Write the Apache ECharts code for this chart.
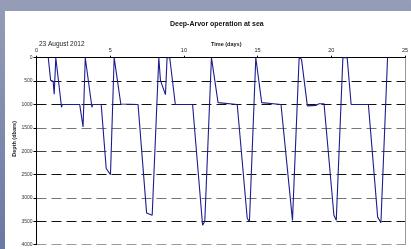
<!DOCTYPE html>
<html>
<head>
<meta charset="utf-8">
<script src="https://cdn.jsdelivr.net/npm/echarts@6/dist/echarts.min.js"></script>
<style>
    html, body {margin: 0; padding: 0;}
    #main {width: 411px; height: 249px;}
</style>
</head>
<body>
<div id="main"></div>
<script>
// time (days) and depth (dbars) of the float profile
var timeDays = [0.80, 0.96, 1.13, 1.20, 1.25, 1.31, 1.43, 1.70, 1.75, 2.93, 3.16, 3.31, 3.40, 3.76, 3.82, 4.39,
    4.73, 5.02, 5.27, 5.38, 5.72, 6.89, 7.47, 7.85, 8.30, 8.41, 8.52, 8.75, 8.86, 9.04, 9.42, 10.59,
    11.27, 11.42, 11.87, 11.99, 12.32, 13.62, 14.30, 14.45, 14.88, 14.99, 15.28, 16.59, 17.37, 17.82,
    17.98, 18.38, 18.50, 18.95, 19.17, 19.51, 20.18, 20.34, 20.79, 21.08, 21.35, 22.52, 23.15, 23.37, 23.82];
var depthDbar = [0, 485, 505, 780, 780, 0, 40, 1060, 1000, 1000, 1480, 0, 30, 1060, 1000, 1000,
    2370, 2500, 0, 0, 990, 1000, 3320, 3370, 0, 485, 500, 790, 0, 0, 1000, 1000,
    3585, 3500, 0, 30, 960, 1000, 3440, 3500, 0, 30, 960, 1000, 3480, 0,
    30, 1030, 1055, 1020, 985, 985, 3370, 3480, 0, 0, 1000, 1000, 3410, 3530, 0];
var xTicks = [0, 5, 10, 15, 20, 25];
var yTicks = [0, 500, 1000, 1500, 2000, 2500, 3000, 3500, 4000];

var profileData = [];
for (var i = 0; i < timeDays.length; i++) {
    profileData.push([timeDays[i], depthDbar[i]]);
}

var chart = echarts.init(document.getElementById('main'));
var font = 'Liberation Sans';
var option = {
    backgroundColor: {
        type: 'linear', x: 0, y: 0, x2: 0, y2: 1,
        colorStops: [{offset: 0, color: '#959db7'}, {offset: 1, color: '#6a79a3'}]
    },
    animation: false,
    graphic: [
        {type: 'rect', z: -10, shape: {x: 5, y: 11, width: 406, height: 238}, style: {fill: '#ffffff'}},
        {
            type: 'text', left: 11, top: 121, rotation: Math.PI / 2,
            style: {text: 'Depth (dbars)', font: 'bold 5.5px ' + font, fill: '#222', align: 'center', verticalAlign: 'middle'}
        }
    ],
    title: [
        {text: 'Deep-Arvor operation at sea', left: 165, top: 16, textStyle: {fontFamily: font, fontSize: 7, fontWeight: 'bold', color: '#111'}},
        {text: '23 August 2012', left: 34, top: 36, textStyle: {fontFamily: font, fontSize: 6.5, fontWeight: 'normal', color: '#222'}},
        {text: 'Time (days)', left: 206, top: 36, textStyle: {fontFamily: font, fontSize: 5.5, fontWeight: 'bold', color: '#222'}}
    ],
    grid: {left: 36.5, top: 57.7, width: 370.2, height: 187, containLabel: false},
    xAxis: {
        type: 'value', position: 'top', min: 0, max: 25, interval: 5,
        axisLine: {lineStyle: {color: '#000', width: 1}},
        axisTick: {show: true, length: 2, lineStyle: {color: '#000'}},
        axisLabel: {fontFamily: font, fontSize: 5.5, color: '#222', margin: 4,
            customValues: xTicks},
        splitLine: {show: false}
    },
    yAxis: [
        {
            type: 'value', inverse: true, min: 0, max: 4000, interval: 500,
            axisLine: {show: true, lineStyle: {color: '#000', width: 1}},
            axisTick: {show: true, length: 3, lineStyle: {color: '#000'}},
            axisLabel: {fontFamily: font, fontSize: 5, color: '#333', margin: 4,
                customValues: yTicks,
                formatter: function (v) { return String(v); }},
            splitLine: {
                show: true,
                lineStyle: {
                    color: ['#000', '#111', '#111', '#777', '#444', '#111', '#777', '#111', '#999'],
                    type: [10, 5], width: 1
                }
            }
        },
        {
            type: 'value', position: 'right', inverse: true, min: 0, max: 4000,
            axisLine: {show: true, lineStyle: {color: '#999', width: 1}},
            axisTick: {show: false}, axisLabel: {show: false}, splitLine: {show: false}
        }
    ],
    series: [
        {
            name: 'Depth',
            type: 'line',
            data: profileData,
            showSymbol: false,
            symbol: 'none',
            lineStyle: {color: '#1c1c8e', width: 1.1},
            clip: true
        }
    ]
};
chart.setOption(option);
</script>
</body>
</html>
